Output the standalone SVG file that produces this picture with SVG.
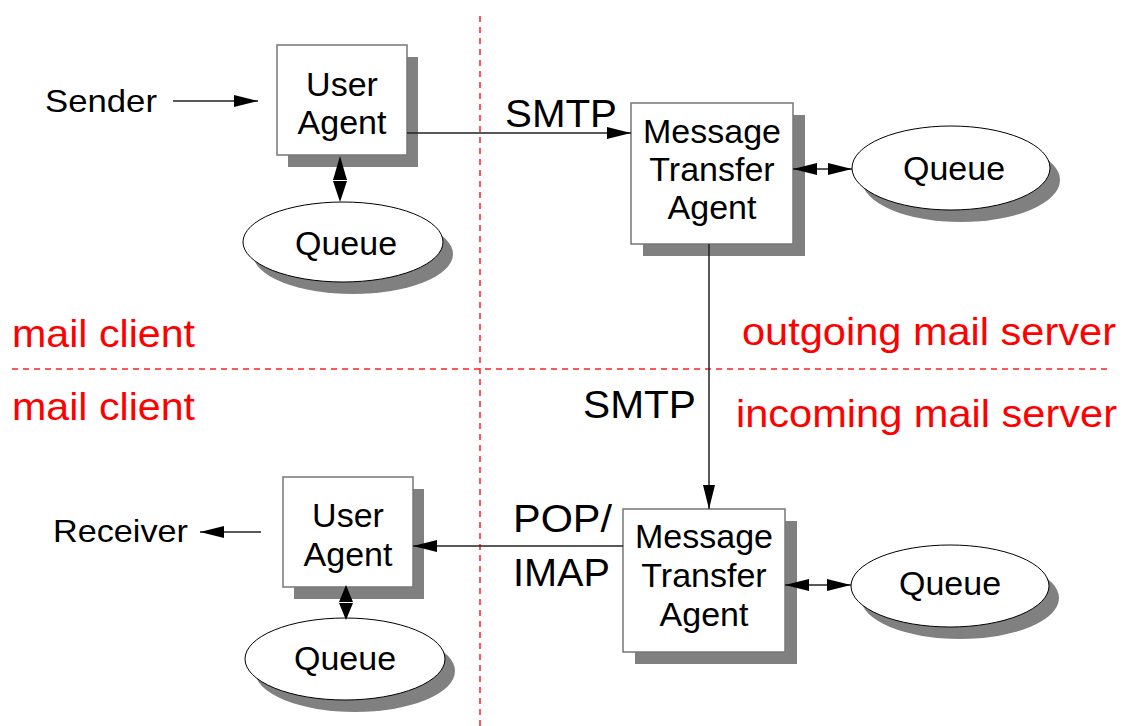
<svg xmlns="http://www.w3.org/2000/svg" width="1123" height="726" viewBox="0 0 1123 726">
  <style>
    text { font-family: "Liberation Sans", Arial, sans-serif; fill: #000; }
    .lbl { font-size: 34px; text-anchor: middle; }
    .side { font-size: 32px; }
    .proto { font-size: 38px; }
    .zone { font-size: 39px; fill: #ff0000; }
    .box { fill: #fff; stroke: #777; stroke-width: 1.5; }
    .ell { fill: #fff; stroke: #000; stroke-width: 1; }
    .shadow { fill: #808080; stroke: none; }
    .conn { stroke: #222; stroke-width: 1.5; fill: none; }
    .head { fill: #000; stroke: none; }
    .divider { stroke: #ff2020; stroke-width: 1.5; stroke-dasharray: 6 5; fill: none; }
  </style>
  <defs>
    <marker id="arrow" viewBox="0 0 24 12" refX="24" refY="6" markerWidth="24" markerHeight="12" markerUnits="userSpaceOnUse" orient="auto-start-reverse">
      <path d="M0,0 L24,6 L0,12 z" fill="#000"/>
    </marker>
  </defs>

  <rect width="1123" height="726" fill="#fff"/>

  <!-- zone dividers -->
  <g id="dividers">
    <line class="divider" x1="480" y1="16" x2="480" y2="726"/>
    <line class="divider" x1="12" y1="369" x2="1112" y2="369"/>
  </g>

  <!-- zone titles -->
  <g id="zones">
    <text class="zone" x="12" y="347" textLength="183" lengthAdjust="spacingAndGlyphs">mail client</text>
    <text class="zone" x="12" y="420" textLength="183" lengthAdjust="spacingAndGlyphs">mail client</text>
    <text class="zone" x="742" y="345" textLength="374" lengthAdjust="spacingAndGlyphs">outgoing mail server</text>
    <text class="zone" x="736" y="427" textLength="381" lengthAdjust="spacingAndGlyphs">incoming mail server</text>
  </g>

  <g id="sender">
    <text class="side" x="45" y="112" textLength="112" lengthAdjust="spacingAndGlyphs">Sender</text>
  </g>

  <g id="user-agent-out">
    <rect class="shadow" x="288" y="57" width="130" height="110"/>
    <rect class="box" x="277" y="45" width="130" height="110"/>
    <text class="lbl" x="342" y="96">User</text>
    <text class="lbl" x="342" y="134">Agent</text>
  </g>

  <g id="queue-client-out">
    <ellipse class="shadow" cx="353" cy="254" rx="100" ry="40"/>
    <ellipse class="ell" cx="343" cy="242" rx="100" ry="40"/>
    <text class="lbl" x="346" y="255">Queue</text>
  </g>

  <g id="mta-out">
    <rect class="shadow" x="643" y="115" width="162" height="141"/>
    <rect class="box" x="631" y="103" width="162" height="141"/>
    <text class="lbl" x="712" y="143">Message</text>
    <text class="lbl" x="712" y="181">Transfer</text>
    <text class="lbl" x="712" y="219">Agent</text>
  </g>

  <g id="queue-server-out">
    <ellipse class="shadow" cx="961" cy="180" rx="99" ry="42"/>
    <ellipse class="ell" cx="951" cy="168" rx="99" ry="42"/>
    <text class="lbl" x="954" y="180">Queue</text>
  </g>

  <g id="mta-in">
    <rect class="shadow" x="635" y="521" width="162" height="143"/>
    <rect class="box" x="623" y="509" width="162" height="143"/>
    <text class="lbl" x="704" y="548">Message</text>
    <text class="lbl" x="704" y="587">Transfer</text>
    <text class="lbl" x="704" y="626">Agent</text>
  </g>

  <g id="queue-server-in">
    <ellipse class="shadow" cx="960" cy="598" rx="99" ry="41"/>
    <ellipse class="ell" cx="950" cy="586" rx="99" ry="41"/>
    <text class="lbl" x="950" y="595">Queue</text>
  </g>

  <g id="user-agent-in">
    <rect class="shadow" x="294" y="489" width="130" height="110"/>
    <rect class="box" x="283" y="477" width="130" height="110"/>
    <text class="lbl" x="348" y="527">User</text>
    <text class="lbl" x="348" y="566">Agent</text>
  </g>

  <g id="queue-client-in">
    <ellipse class="shadow" cx="355" cy="671" rx="100" ry="41"/>
    <ellipse class="ell" cx="345" cy="659" rx="100" ry="41"/>
    <text class="lbl" x="345" y="670">Queue</text>
  </g>

  <g id="receiver">
    <text class="side" x="53" y="542" textLength="135" lengthAdjust="spacingAndGlyphs">Receiver</text>
  </g>

  <!-- connectors, drawn last so the heads sit over the drop shadows -->
  <g id="connectors">
    <line class="conn" x1="173" y1="101" x2="258" y2="101" marker-end="url(#arrow)"/>
    <!-- two-way link between user agent and its queue: back-to-back heads -->
    <path class="head" d="M340,156 L347,180 L333,180 Z M340,202 L347,181 L333,181 Z"/>
    <line class="conn" x1="407" y1="133" x2="631" y2="133" marker-end="url(#arrow)"/>
    <line class="conn" x1="793" y1="169" x2="852" y2="169" marker-start="url(#arrow)" marker-end="url(#arrow)"/>
    <line class="conn" x1="709" y1="244" x2="709" y2="509" marker-end="url(#arrow)"/>
    <line class="conn" x1="623" y1="546" x2="413" y2="546" marker-end="url(#arrow)"/>
    <line class="conn" x1="785" y1="585" x2="851" y2="585" marker-start="url(#arrow)" marker-end="url(#arrow)"/>
    <path class="head" d="M346,585 L353,602 L339,602 Z M346,620 L353,603 L339,603 Z"/>
    <line class="conn" x1="261" y1="532" x2="200" y2="532" marker-end="url(#arrow)"/>
    <text class="proto" x="505" y="127" textLength="112" lengthAdjust="spacingAndGlyphs">SMTP</text>
    <text class="proto" x="583" y="418" textLength="113" lengthAdjust="spacingAndGlyphs">SMTP</text>
    <text class="proto" x="513" y="532" textLength="99" lengthAdjust="spacingAndGlyphs">POP/</text>
    <text class="proto" x="513" y="586" textLength="97" lengthAdjust="spacingAndGlyphs">IMAP</text>
  </g>
</svg>
